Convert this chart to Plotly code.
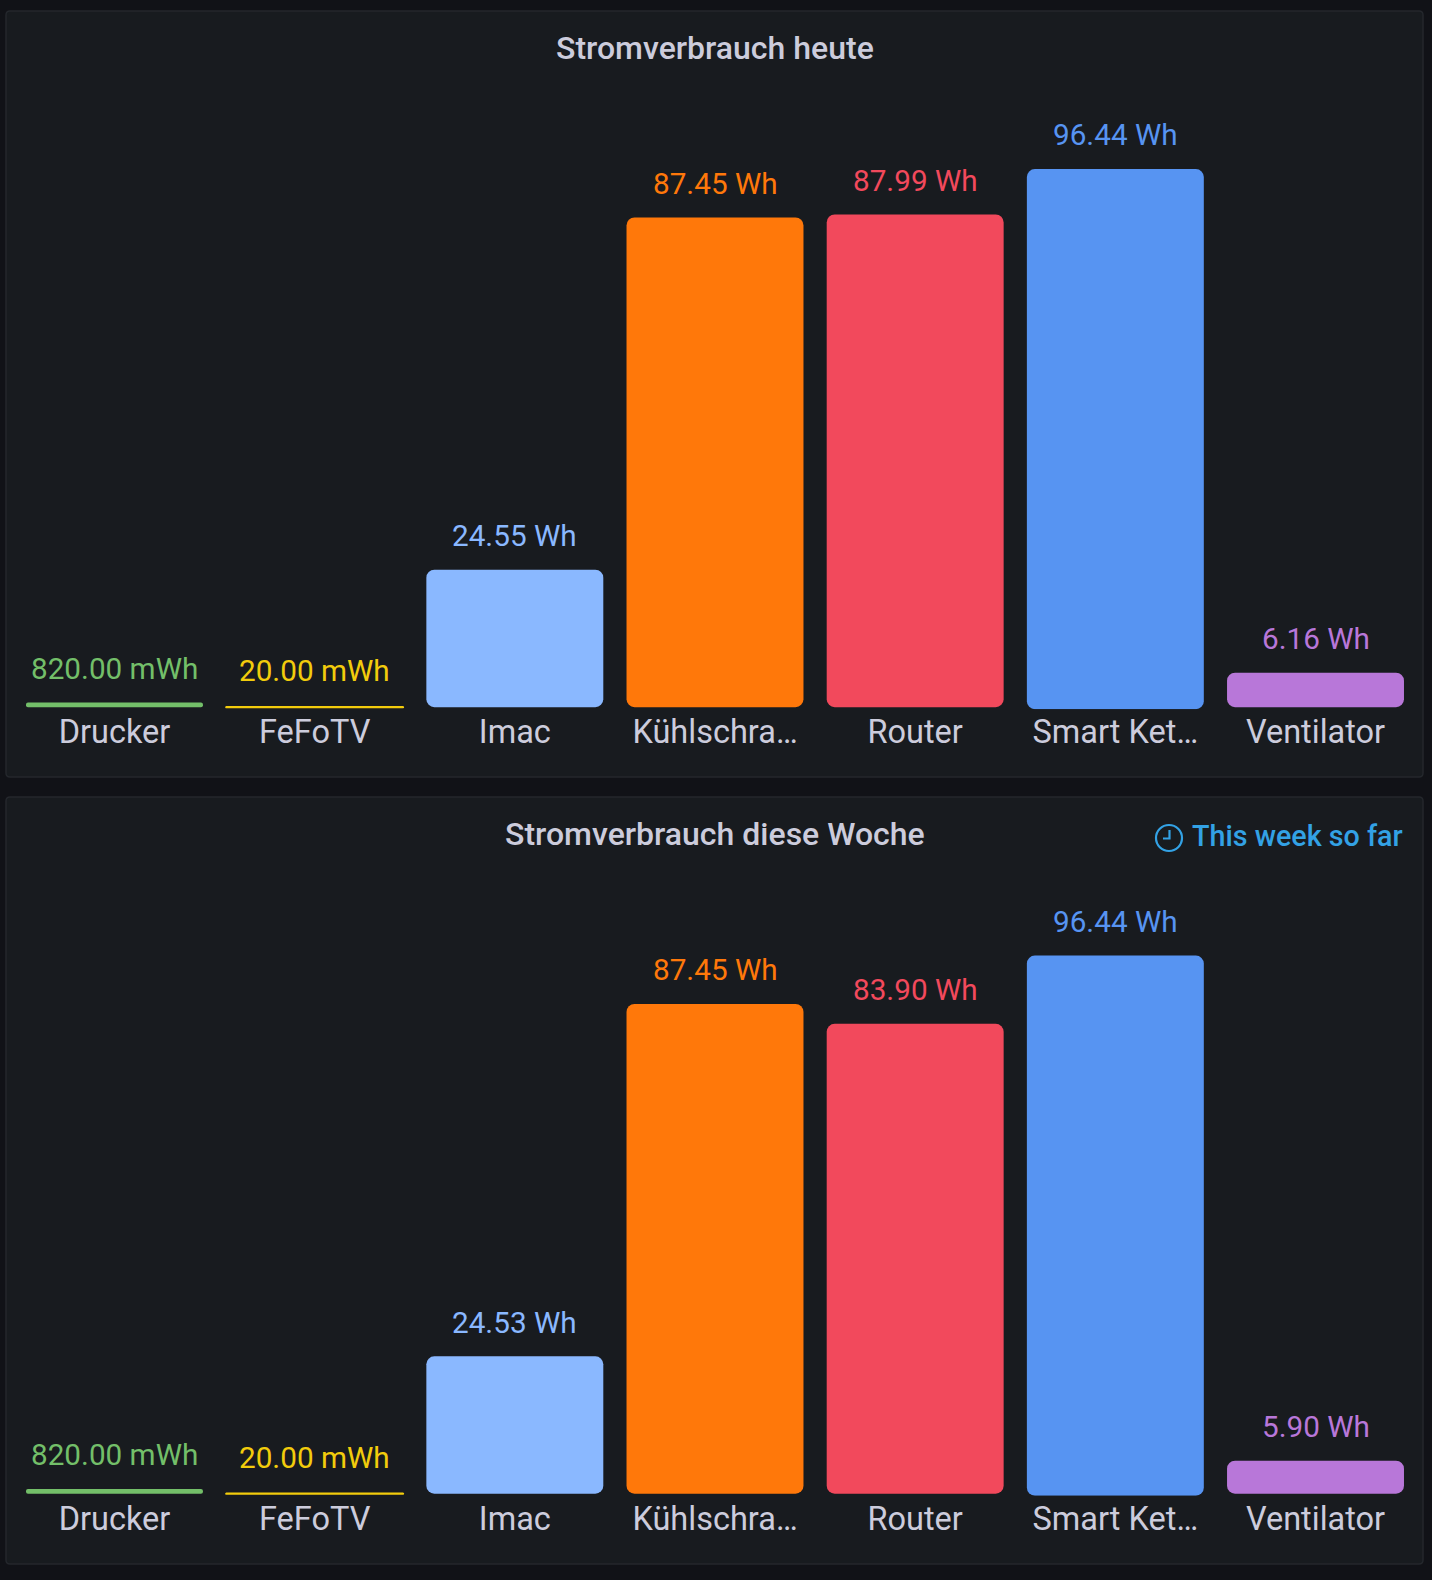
import plotly.graph_objects as go

W, H = 1432, 1580
categories = ["Drucker", "FeFoTV", "Imac", "Kühlschra…", "Router", "Smart Ket…", "Ventilator"]
today_values = [0.82, 0.02, 24.55, 87.45, 87.99, 96.44, 6.16]
today_labels = ["820.00 mWh", "20.00 mWh", "24.55 Wh", "87.45 Wh", "87.99 Wh", "96.44 Wh", "6.16 Wh"]
week_values = [0.82, 0.02, 24.53, 87.45, 83.90, 96.44, 5.90]
week_labels = ["820.00 mWh", "20.00 mWh", "24.53 Wh", "87.45 Wh", "83.90 Wh", "96.44 Wh", "5.90 Wh"]
colors = ["#73BF69", "#F2CC0C", "#8AB8FF", "#FF780A", "#F2495C", "#5794F2", "#B877D9"]
bar_bases = [0, 0, 0, 0, 0, -0.35, 0]
min_line = [0, 2, 0, 0, 0, 0, 0]
label_lift = [0, 2, 0, 0, 0, 0, 0]

BG, PANEL, BORDER, TXT, TIME = "#111217", "#181B1F", "#24272C", "#CCCCDC", "#33A2E5"
FONT = "Roboto"
PX_PER_WH = 5.6
PLOT_L, PLOT_R = 14.4, 1415.6
Y_FLOOR = -0.37


def px(x):
    return x / W


def py(y):
    return 1 - y / H


def rounded(x0, y0, x1, y1, r):
    a, b, c, d = px(x0), py(y0), px(x1), py(y1)
    ax, ay = r / W, r / H
    return (f"M {a+ax},{b} L {c-ax},{b} Q {c},{b} {c},{b-ay} L {c},{d+ay} Q {c},{d} {c-ax},{d} "
            f"L {a+ax},{d} Q {a},{d} {a},{d+ay} L {a},{b-ay} Q {a},{b} {a+ax},{b} Z")


fig = go.Figure()
shapes = [
    dict(type="path", xref="paper", yref="paper", path=rounded(6, 11, 1423, 777, 4),
         fillcolor=PANEL, line=dict(color=BORDER, width=1.5), layer="below"),
    dict(type="path", xref="paper", yref="paper", path=rounded(6, 797, 1423, 1564, 4),
         fillcolor=PANEL, line=dict(color=BORDER, width=1.5), layer="below"),
    dict(type="circle", xref="paper", yref="paper", x0=px(1156), x1=px(1182), y0=py(825), y1=py(851),
         line=dict(color=TIME, width=2.2)),
    dict(type="path", xref="paper", yref="paper",
         path=f"M {px(1169.5)},{py(830)} L {px(1169.5)},{py(838.5)} L {px(1163)},{py(838.5)}",
         line=dict(color=TIME, width=2.2)),
]
annotations = []
panels = [(today_values, today_labels, 707.2, "Stromverbrauch heute", 47.5, "x", "y", 0),
          (week_values, week_labels, 1493.7, "Stromverbrauch diese Woche", 834, "x2", "y2", 1)]
for values, labels, zero_y, title, title_y, xa, ya, standoff in panels:
    fig.add_trace(go.Bar(
        x=categories, y=values, base=bar_bases,
        marker=dict(color=colors, cornerradius=8, line=dict(color=colors, width=min_line)),
        xaxis=xa, yaxis=ya, showlegend=False, cliponaxis=False, hoverinfo="skip",
    ))
    for c, v, l, col, b, lift in zip(categories, values, labels, colors, bar_bases, label_lift):
        annotations.append(dict(x=c, y=v + b, xref=xa, yref=ya, text=l, showarrow=False,
                                yanchor="middle", yshift=34.2 + lift,
                                font=dict(family=FONT, size=29.7, color=col)))
    annotations.append(dict(x=px(714.5), y=py(title_y), xref="paper", yref="paper", text=title, showarrow=False,
                            xanchor="center", yanchor="middle",
                            font=dict(family=FONT, size=32, color=TXT, weight=500)))
    floor_px = -Y_FLOOR * PX_PER_WH
    dom = [py(zero_y + floor_px), py(zero_y - 600)]
    axis_y = dict(domain=dom, range=[Y_FLOOR, 600 / PX_PER_WH], visible=False, fixedrange=True)
    axis_x = dict(domain=[px(PLOT_L), px(PLOT_R)], type="category", categoryorder="array",
                  categoryarray=categories, showgrid=False, zeroline=False, showline=False, ticks="",
                  tickfont=dict(family=FONT, size=32.5, color=TXT), ticklabelstandoff=standoff, fixedrange=True,
                  anchor=ya)
    if xa == "x":
        fig.update_layout(xaxis=axis_x, yaxis=axis_y)
    else:
        axis_y["anchor"] = "x2"
        fig.update_layout(xaxis2=axis_x, yaxis2=axis_y)

annotations.append(dict(x=px(1404.5), y=py(835.5), xref="paper", yref="paper", xanchor="right", yanchor="middle",
                        showarrow=False, text="This week so far",
                        font=dict(family=FONT, size=28.7, color=TIME, weight=500)))

fig.update_layout(width=W, height=H, margin=dict(l=0, r=0, t=0, b=0), paper_bgcolor=BG, plot_bgcolor="rgba(0,0,0,0)",
                  bargap=0.116, shapes=shapes, annotations=annotations, font=dict(family=FONT, color=TXT))
fig.write_html("out.html", config={"displayModeBar": False},
               post_script="document.body.style.margin='0';document.body.style.overflow='hidden';")
